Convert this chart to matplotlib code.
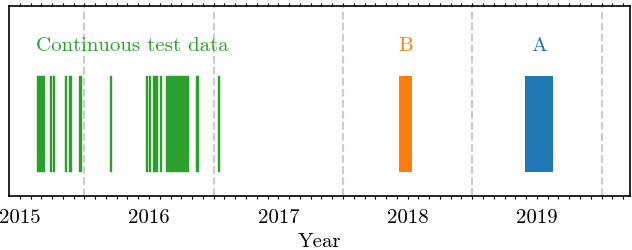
import matplotlib
matplotlib.use("Agg")
import matplotlib.pyplot as plt
from matplotlib.ticker import MultipleLocator

plt.rcParams['font.family'] = 'cmr10'
plt.rcParams['mathtext.fontset'] = 'cm'
plt.rcParams['axes.unicode_minus'] = False
plt.rcParams['axes.formatter.use_mathtext'] = True

# continuous test data periods (start, end) in decimal years
cont_start = [2015.135, 2015.232, 2015.257, 2015.347, 2015.378, 2015.459, 2015.695,
              2015.973, 2016.000, 2016.027, 2016.085, 2016.133, 2016.367, 2016.531]
cont_end = [2015.193, 2015.253, 2015.273, 2015.368, 2015.402, 2015.481, 2015.716,
            2015.992, 2016.019, 2016.069, 2016.104, 2016.307, 2016.385, 2016.548]

# campaigns B and A
b_start, b_end = 2017.934, 2018.031
a_start, a_end = 2018.905, 2019.126

year_ticks = [2015, 2016, 2017, 2018, 2019]
split_lines = [2015.5, 2016.5, 2017.5, 2018.5, 2019.5]

green = '#2ca02c'
orange = '#ff7f0e'
blue = '#1f77b4'

fig = plt.figure(figsize=(6.32, 2.5), dpi=100)
ax = fig.add_axes([9/632, 54/250, 621/632, 190/250])

y0, h = 0.126, 0.506
ax.broken_barh([(s, e - s) for s, e in zip(cont_start, cont_end)], (y0, h),
               facecolor=green, edgecolor=green, linewidth=0.3)
ax.broken_barh([(b_start, b_end - b_start)], (y0, h), facecolor=orange, edgecolor='none')
ax.broken_barh([(a_start, a_end - a_start)], (y0, h), facecolor=blue, edgecolor='none')

for x in split_lines:
    ax.axvline(x, color='#cccccc', ls='--', lw=1.5, zorder=0)

fs = 15
ax.text(2015.87, 0.79, 'Continuous test data', color=green, fontsize=fs,
        ha='center', va='center')
ax.text((b_start + b_end) / 2, 0.79, 'B', color=orange, fontsize=fs, ha='center', va='center')
ax.text((a_start + a_end) / 2, 0.79, 'A', color=blue, fontsize=fs, ha='center', va='center')

ax.set_xlim(2014.917, 2019.72)
ax.set_ylim(0, 1)
ax.set_yticks([])
ax.set_xticks(year_ticks)
ax.set_xticklabels([str(y) for y in year_ticks])
ax.xaxis.set_minor_locator(MultipleLocator(1/12))
ax.tick_params(axis='x', which='both', top=True, direction='out', length=2.5,
               width=0.8, labelsize=fs, pad=7)
ax.set_xlabel('Year', fontsize=fs, labelpad=4)
for s in ax.spines.values():
    s.set_linewidth(1.2)

fig.savefig('out.png', dpi=100)
